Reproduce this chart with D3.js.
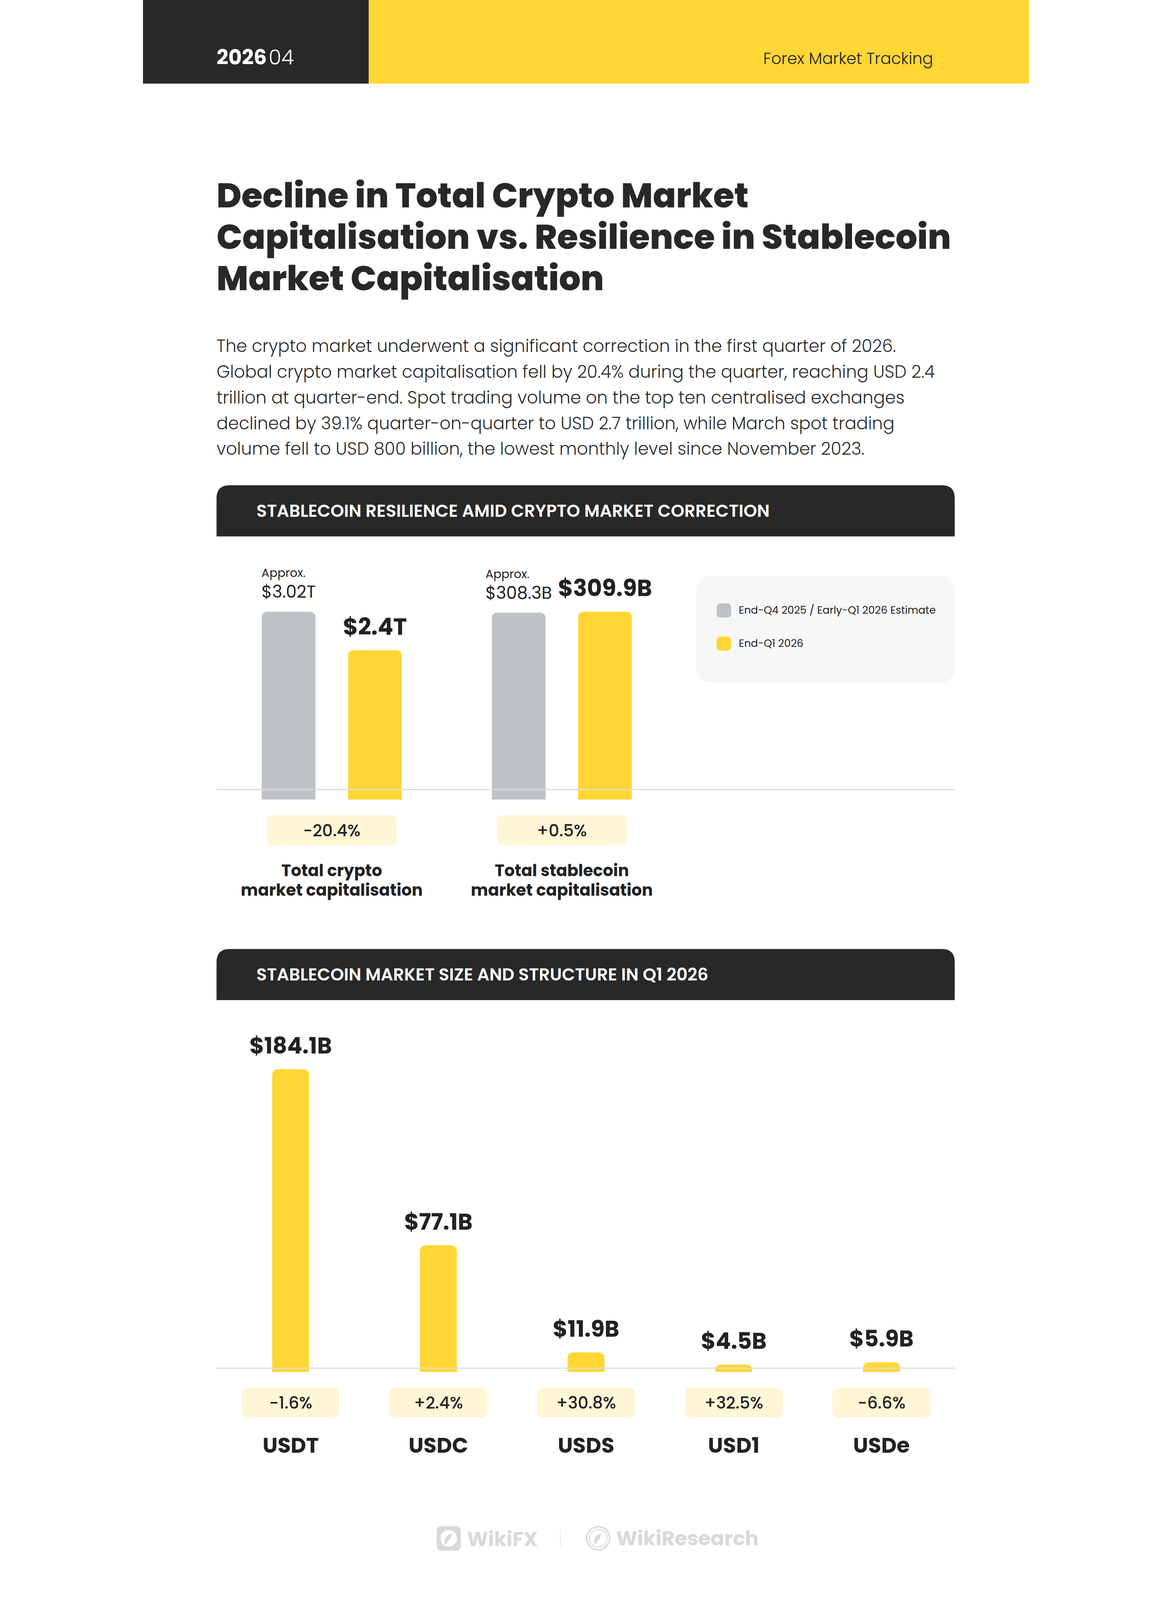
<!DOCTYPE html>
<html>
<head>
<meta charset="utf-8">
<script src="https://cdn.jsdelivr.net/npm/d3@7"></script>
<style>
  html, body { margin: 0; padding: 0; background: #fff; }
  svg { display: block; margin: 0 auto; }
  text { font-family: Poppins, Inter, "Noto Sans", sans-serif; }
</style>
</head>
<body>
<div id="chart"></div>
<script>
// ---- data ----
const capCategories = [["Total crypto", "market capitalisation"], ["Total stablecoin", "market capitalisation"]];
const seriesNames = ["End-Q4 2025 / Early-Q1 2026 Estimate", "End-Q1 2026"];
const capPrev = [3.02, 308.3];
const capNow = [2.4, 309.9];
const capPrevLabels = ["$3.02T", "$308.3B"];
const capNowLabels = ["$2.4T", "$309.9B"];
const capChange = ["-20.4%", "+0.5%"];

const coins = ["USDT", "USDC", "USDS", "USD1", "USDe"];
const coinValues = [184.1, 77.1, 11.9, 4.5, 5.9];
const coinLabels = ["$184.1B", "$77.1B", "$11.9B", "$4.5B", "$5.9B"];
const coinChange = ["-1.6%", "+2.4%", "+30.8%", "+32.5%", "-6.6%"];

const titleLines = ["Decline in Total Crypto Market",
  "Capitalisation vs. Resilience in Stablecoin",
  "Market Capitalisation"];
const introLines = [
  "The crypto market underwent a significant correction in the first quarter of 2026.",
  "Global crypto market capitalisation fell by 20.4% during the quarter, reaching USD 2.4",
  "trillion at quarter-end. Spot trading volume on the top ten centralised exchanges",
  "declined by 39.1% quarter-on-quarter to USD 2.7 trillion, while March spot trading",
  "volume fell to USD 800 billion, the lowest monthly level since November 2023."];

// ---- colours ----
var dark = "#282828", yellow = "#FFD633", grey = "#BEC1C5", pill = "#FFF6D6", ink = "#222";

var W = 3000, H = 5417;
// the window can be shorter than the page: fit the whole page in it
var s = Math.min(1, window.innerWidth / W, window.innerHeight / H);
var svg = d3.select("#chart").append("svg")
  .attr("viewBox", "0 0 " + W + " " + H)
  .attr("width", W * s).attr("height", H * s);

// scale font so that a text node gets a given width
function fitTo(sel, w) {
  var cur = sel.node().getComputedTextLength();
  var fs = parseFloat(sel.attr("font-size"));
  return fs * w / cur;
}

// bar with rounded top corners
function topRounded(x, y, w, h, r) {
  r = Math.min(r, h, w / 2);
  return "M" + x + "," + (y + h) +
    "V" + (y + r) +
    "Q" + x + "," + y + " " + (x + r) + "," + y +
    "H" + (x + w - r) +
    "Q" + (x + w) + "," + y + " " + (x + w) + "," + (y + r) +
    "V" + (y + h) + "Z";
}

// ---- header ----
svg.append("rect").attr("x", 0).attr("y", 0).attr("width", W).attr("height", 283).attr("fill", yellow);
svg.append("rect").attr("x", 0).attr("y", 0).attr("width", 764).attr("height", 283).attr("fill", dark);
var yr = svg.append("text").attr("x", 249).attr("y", 218).attr("font-size", 70).attr("fill", "#fff");
yr.append("tspan").attr("font-weight", 700).text("2026");
yr.append("tspan").attr("font-weight", 300).attr("dx", 6).text("04");
svg.append("text").attr("x", 2675).attr("y", 217).attr("text-anchor", "end")
  .attr("font-size", 54).attr("font-weight", 300).attr("fill", ink).text("Forex Market Tracking");

// ---- title ----
var tl = svg.append("g").selectAll("text").data(titleLines).enter().append("text")
  .attr("x", 249).attr("y", function (d, i) { return 702 + i * 140; })
  .attr("font-size", 118).attr("font-weight", 800).attr("fill", dark)
  .text(function (d) { return d; });
var tfs = Math.min(124, fitTo(d3.select(tl.nodes()[1]), 2487));
tl.attr("font-size", tfs);

// ---- intro paragraph ----
var pl = svg.append("g").selectAll("text").data(introLines).enter().append("text")
  .attr("x", 249).attr("y", function (d, i) { return 1192 + i * 87; })
  .attr("font-size", 56).attr("font-weight", 300).attr("fill", "#2b2b2b")
  .text(function (d) { return d; });
var pfs = Math.min(62, fitTo(d3.select(pl.nodes()[1]), 2431));
pl.attr("font-size", pfs);

// ---- section header bars ----
function sectionBar(y, label, textW) {
  svg.append("path").attr("d", topRounded(249, y, 2499, 173, 44)).attr("fill", dark);
  var t = svg.append("text").attr("x", 384).attr("y", y + 107)
    .attr("font-size", 60).attr("font-weight", 600).attr("fill", "#fff").text(label);
  t.attr("font-size", Math.min(66, fitTo(t, textW)));
}
sectionBar(1643, "STABLECOIN RESILIENCE AMID CRYPTO MARKET CORRECTION", 1738);
sectionBar(3213, "STABLECOIN MARKET SIZE AND STRUCTURE IN Q1 2026", 1530);

// =================== chart 1 ===================
var base1 = 2707, top1 = 2071;
var xg = d3.scalePoint().domain([0, 1]).range([639, 1418]);
var xs = d3.scaleBand().domain(seriesNames).range([-237, 237]).paddingInner(0.377);
var bw1 = xs.bandwidth();

var g1 = svg.append("g");
capCategories.forEach(function (cat, i) {
  var y = d3.scaleLinear().domain([0, Math.max(capPrev[i], capNow[i])]).range([base1, top1]);
  var cx = xg(i);
  var xPrev = cx + xs(seriesNames[0]), xNow = cx + xs(seriesNames[1]);

  g1.append("path").attr("d", topRounded(xPrev, y(capPrev[i]), bw1, base1 - y(capPrev[i]), 20)).attr("fill", grey);
  g1.append("path").attr("d", topRounded(xNow, y(capNow[i]), bw1, base1 - y(capNow[i]), 20)).attr("fill", yellow);

  // previous value label (Approx. + value)
  var pv = g1.append("text").attr("x", xPrev + bw1 / 2).attr("y", y(capPrev[i]) - 47)
    .attr("text-anchor", "middle").attr("font-size", 58).attr("font-weight", 400).attr("fill", ink)
    .text(capPrevLabels[i]);
  var pw = pv.node().getComputedTextLength();
  g1.append("text").attr("x", xPrev + bw1 / 2 - pw / 2).attr("y", y(capPrev[i]) - 117)
    .attr("font-size", 40).attr("font-weight", 400).attr("fill", ink).text("Approx.");

  // current value label
  g1.append("text").attr("x", xNow + bw1 / 2).attr("y", y(capNow[i]) - 53)
    .attr("text-anchor", "middle").attr("font-size", 78).attr("font-weight", 700).attr("fill", ink)
    .text(capNowLabels[i]);

  // change pill
  g1.append("rect").attr("x", cx - 220).attr("y", 2760).attr("width", 441).attr("height", 101)
    .attr("rx", 20).attr("fill", pill);
  g1.append("text").attr("x", cx).attr("y", 2832).attr("text-anchor", "middle")
    .attr("font-size", 56).attr("font-weight", 500).attr("fill", ink).text(capChange[i]);

  // category label, two lines
  g1.selectAll(null).data(cat).enter().append("text")
    .attr("x", cx).attr("y", function (d, j) { return 2967 + j * 66; })
    .attr("text-anchor", "middle").attr("font-size", 55).attr("font-weight", 700).attr("fill", ink)
    .text(function (d) { return d; });
});
g1.append("line").attr("x1", 249).attr("x2", 2748).attr("y1", 2673).attr("y2", 2673)
  .attr("stroke", "#DCDCDC").attr("stroke-width", 4);

// legend
var lg = svg.append("g");
lg.append("rect").attr("x", 1873).attr("y", 1950).attr("width", 875).attr("height", 362)
  .attr("rx", 50).attr("fill", "#F7F7F7");
var li = lg.selectAll("g.item").data(seriesNames).enter().append("g").attr("class", "item")
  .attr("transform", function (d, i) { return "translate(1942," + (2043 + i * 112) + ")"; });
li.append("rect").attr("width", 49).attr("height", 48).attr("rx", 13)
  .attr("fill", function (d, i) { return i === 0 ? grey : yellow; });
li.append("text").attr("x", 75).attr("y", 35).attr("font-size", 35.5).attr("font-weight", 400)
  .attr("fill", ink).text(function (d) { return d; });

// =================== chart 2 ===================
var base2 = 4645;
var x2 = d3.scaleBand().domain(coins).range([250, 2750]).paddingInner(0.75).paddingOuter(0.375);
var y2 = d3.scaleLinear().domain([0, d3.max(coinValues)]).range([base2, 3620]);
var bw2 = x2.bandwidth();

var g2 = svg.append("g");
var col = g2.selectAll("g.coin").data(coins).enter().append("g").attr("class", "coin");
col.append("path")
  .attr("d", function (d, i) { return topRounded(x2(d), y2(coinValues[i]), bw2, base2 - y2(coinValues[i]), 22); })
  .attr("fill", yellow);
col.append("text")
  .attr("x", function (d) { return x2(d) + bw2 / 2; })
  .attr("y", function (d, i) { return y2(coinValues[i]) - 53; })
  .attr("text-anchor", "middle").attr("font-size", 76).attr("font-weight", 700).attr("fill", ink)
  .text(function (d, i) { return coinLabels[i]; });
col.append("rect")
  .attr("x", function (d) { return x2(d) + bw2 / 2 - 166; }).attr("y", 4698)
  .attr("width", 332).attr("height", 101).attr("rx", 20).attr("fill", pill);
col.append("text")
  .attr("x", function (d) { return x2(d) + bw2 / 2; }).attr("y", 4769)
  .attr("text-anchor", "middle").attr("font-size", 56).attr("font-weight", 500).attr("fill", ink)
  .text(function (d, i) { return coinChange[i]; });
col.append("text")
  .attr("x", function (d) { return x2(d) + bw2 / 2; }).attr("y", 4919)
  .attr("text-anchor", "middle").attr("font-size", 72).attr("font-weight", 700).attr("fill", ink)
  .text(function (d) { return d; });
g2.append("line").attr("x1", 249).attr("x2", 2748).attr("y1", 4632).attr("y2", 4632)
  .attr("stroke", "#DCDCDC").attr("stroke-width", 4);

// ---- footer logos ----
var ft = svg.append("g").attr("fill", "#D9D9D9");
ft.append("rect").attr("x", 994).attr("y", 5167).attr("width", 82).attr("height", 83).attr("rx", 16);
ft.append("circle").attr("cx", 1035).attr("cy", 5208).attr("r", 28).attr("fill", "#fff");
ft.append("path").attr("d", "M1020,5222 Q1022,5196 1046,5192 L1040,5212 Q1030,5214 1028,5230 Z").attr("fill", "#D9D9D9");
ft.append("text").attr("x", 1097).attr("y", 5235).attr("font-size", 68).attr("font-weight", 700).text("WikiFX");
ft.append("line").attr("x1", 1413).attr("x2", 1413).attr("y1", 5178).attr("y2", 5237)
  .attr("stroke", "#E4E4E4").attr("stroke-width", 2);
ft.append("circle").attr("cx", 1541).attr("cy", 5208).attr("r", 39).attr("fill", "none")
  .attr("stroke", "#D9D9D9").attr("stroke-width", 5);
ft.append("circle").attr("cx", 1541).attr("cy", 5208).attr("r", 30).attr("fill", "none")
  .attr("stroke", "#D9D9D9").attr("stroke-width", 3);
ft.append("path").attr("d", "M1526,5222 Q1528,5196 1552,5192 L1546,5212 Q1536,5214 1534,5230 Z");
ft.append("text").attr("x", 1602).attr("y", 5232).attr("font-size", 68).attr("font-weight", 700).text("WikiResearch");
</script>
</body>
</html>
